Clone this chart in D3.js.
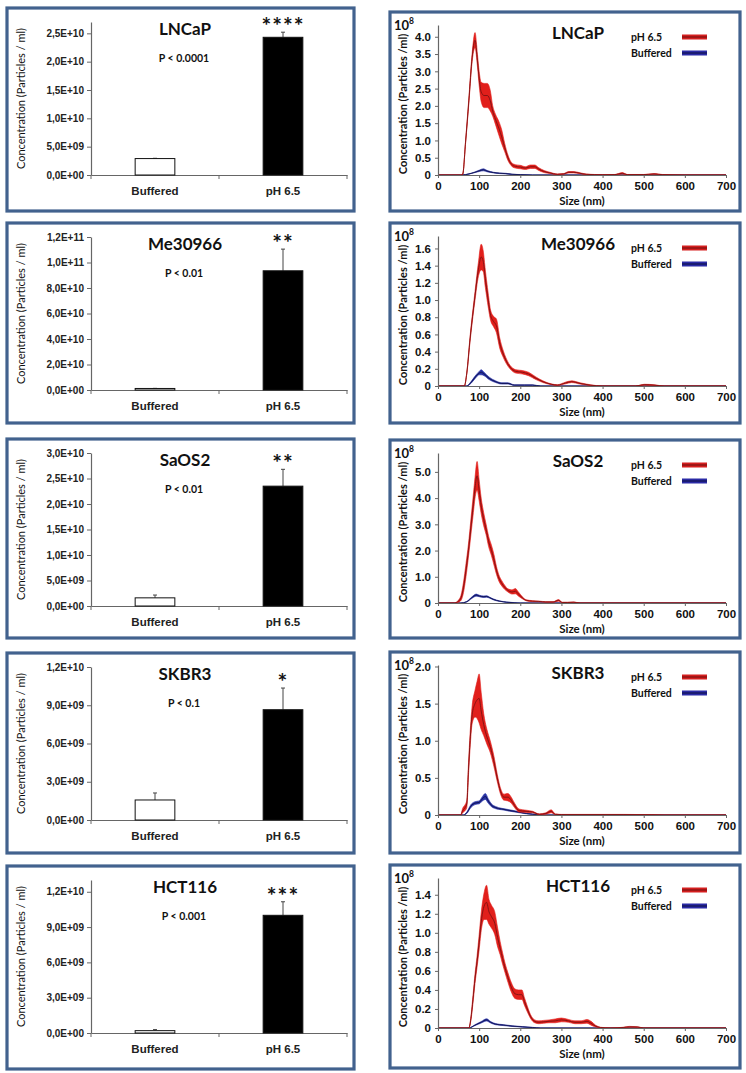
<!DOCTYPE html>
<html><head><meta charset="utf-8">
<script src="https://cdn.jsdelivr.net/npm/d3@7"></script>
<style>
html,body{margin:0;padding:0;background:#fff;}
svg{display:block;font-family:Lato, "Open Sans", sans-serif;}
</style></head>
<body>
<svg id="chart" width="746" height="1073"></svg>
<script>
// ---------------- DATA ----------------
const cellLines = ["LNCaP", "Me30966", "SaOS2", "SKBR3", "HCT116"];
const barCategories = ["Buffered", "pH 6.5"];
const bufferedMean = [2.9e9, 1.2e9, 1.6e9, 1.57e9, 2.0e8];
const bufferedErr  = [0.5e8, 0.8e8, 5.5e8, 5.5e8, 0.9e8];
const ph65Mean     = [2.43e10, 9.35e10, 2.35e10, 8.65e9, 1.0e10];
const ph65Err      = [0.9e9, 1.7e10, 3.3e9, 1.7e9, 1.15e9];
const pValueLabels = ["P < 0.0001", "P < 0.01", "P < 0.01", "P < 0.1", "P < 0.001"];
const starLabels   = ["****", "**", "**", "*", "***"];
const barTicks = [
  [0, 5e9, 1e10, 1.5e10, 2e10, 2.5e10],
  [0, 2e10, 4e10, 6e10, 8e10, 1e11, 1.2e11],
  [0, 5e9, 1e10, 1.5e10, 2e10, 2.5e10, 3e10],
  [0, 3e9, 6e9, 9e9, 1.2e10],
  [0, 3e9, 6e9, 9e9, 1.2e10]
];
const barYMax = [2.7e10, 1.2e11, 3.0e10, 1.2e10, 1.3e10];

const sizeTicks = [0, 100, 200, 300, 400, 500, 600, 700];
const ntaTicks = [
  [0, 0.5, 1.0, 1.5, 2.0, 2.5, 3.0, 3.5, 4.0],
  [0, 0.2, 0.4, 0.6, 0.8, 1.0, 1.2, 1.4, 1.6],
  [0, 1.0, 2.0, 3.0, 4.0, 5.0],
  [0, 0.5, 1.0, 1.5, 2.0],
  [0, 0.2, 0.4, 0.6, 0.8, 1.0, 1.2, 1.4]
];
const ntaYMax = [4.34, 1.745, 5.72, 2.02, 1.576];
const seriesNames = ["pH 6.5", "Buffered"];

// [size nm, mean (x10^8 particles/ml), half-width of band]
const lncapPH65 = [[0,0,0],[55,0,0],[60,0.02,0.01],[67,0.95,0.04],[75,2.15,0.08],[83,3.4,0.12],[90,3.9,0.22],[96,3.3,0.18],[100,2.8,0.2],[105,2.4,0.28],[112,2.3,0.35],[120,2.3,0.35],[127,2.15,0.3],[133,1.85,0.15],[140,1.6,0.15],[148,1.35,0.2],[155,1.1,0.2],[162,0.8,0.12],[170,0.5,0.08],[178,0.32,0.05],[188,0.25,0.05],[200,0.23,0.05],[212,0.2,0.04],[225,0.24,0.05],[235,0.24,0.05],[245,0.17,0.04],[258,0.1,0.03],[272,0.06,0.02],[290,0.02,0.01],[305,0.03,0.01],[318,0.08,0.02],[330,0.08,0.02],[345,0.05,0.015],[360,0.02,0.01],[380,0.01,0.005],[400,0.005,0.005],[430,0.01,0.005],[448,0.05,0.02],[460,0.01,0.005],[500,0.01,0.005],[525,0.03,0.01],[545,0.01,0.005],[600,0,0],[700,0,0]];
const lncapBuffered = [[0,0,0],[58,0,0],[75,0.03,0.005],[90,0.08,0.01],[100,0.12,0.02],[110,0.15,0.03],[120,0.11,0.02],[135,0.07,0.01],[150,0.05,0.01],[165,0.04,0.01],[180,0.02,0.005],[200,0.01,0.003],[230,0,0],[700,0,0]];
const me30966PH65 = [[0,0,0],[64,0,0],[70,0.15,0.01],[78,0.55,0.03],[90,1.05,0.05],[98,1.35,0.08],[105,1.5,0.15],[110,1.45,0.12],[115,1.25,0.1],[122,1.0,0.08],[128,0.82,0.06],[135,0.75,0.06],[142,0.7,0.08],[150,0.5,0.06],[158,0.38,0.04],[165,0.3,0.03],[175,0.22,0.02],[189,0.17,0.02],[205,0.16,0.02],[220,0.14,0.02],[238,0.09,0.015],[255,0.05,0.01],[275,0.02,0.005],[290,0.01,0.005],[310,0.035,0.01],[325,0.05,0.01],[345,0.03,0.008],[370,0.01,0.005],[400,0,0],[480,0,0],[502,0.015,0.005],[525,0.01,0.005],[550,0,0],[700,0,0]];
const me30966Buffered = [[0,0,0],[70,0,0],[80,0.04,0.01],[90,0.1,0.015],[100,0.15,0.02],[105,0.16,0.03],[112,0.14,0.02],[124,0.09,0.015],[140,0.05,0.01],[155,0.03,0.008],[170,0.03,0.008],[185,0.01,0.005],[210,0.01,0.004],[230,0.01,0.004],[250,0,0],[700,0,0]];
const saos2PH65 = [[0,0,0],[40,0,0],[48,0.05,0.03],[56,0.2,0.1],[62,0.6,0.2],[68,1.25,0.25],[74,2.0,0.25],[80,2.9,0.3],[86,3.8,0.35],[90,4.4,0.4],[95,4.85,0.55],[100,4.3,0.4],[105,3.7,0.3],[111,3.2,0.25],[117,2.8,0.2],[123,2.35,0.2],[130,2.0,0.2],[136,1.65,0.2],[142,1.25,0.15],[148,0.95,0.12],[155,0.75,0.1],[162,0.6,0.08],[170,0.48,0.06],[180,0.42,0.08],[188,0.45,0.1],[195,0.35,0.08],[205,0.2,0.04],[215,0.1,0.02],[230,0.07,0.02],[245,0.06,0.015],[262,0.04,0.01],[280,0.04,0.01],[293,0.1,0.03],[302,0.02,0.01],[315,0.02,0.01],[330,0.03,0.01],[345,0,0],[700,0,0]];
const saos2Buffered = [[0,0,0],[55,0,0],[70,0.05,0.01],[82,0.2,0.03],[93,0.3,0.04],[100,0.27,0.03],[110,0.24,0.03],[118,0.25,0.03],[126,0.2,0.02],[134,0.14,0.02],[150,0.07,0.01],[167,0.03,0.008],[185,0.01,0.005],[200,0,0],[700,0,0]];
const skbr3PH65 = [[0,0,0],[55,0,0],[60,0.06,0.03],[66,0.1,0.04],[70,0.15,0.05],[74,0.6,0.08],[78,1.0,0.1],[83,1.35,0.12],[90,1.5,0.18],[95,1.55,0.25],[100,1.57,0.33],[105,1.4,0.25],[111,1.22,0.15],[119,1.05,0.1],[127,0.92,0.08],[136,0.72,0.07],[144,0.5,0.05],[152,0.32,0.04],[160,0.24,0.04],[170,0.24,0.05],[178,0.2,0.04],[186,0.13,0.03],[197,0.06,0.02],[214,0.05,0.015],[230,0.04,0.01],[246,0.01,0.005],[262,0.02,0.01],[275,0.05,0.02],[285,0.01,0.005],[300,0.005,0.003],[350,0.005,0.003],[450,0.005,0.003],[520,0.003,0.002],[550,0,0],[700,0,0]];
const skbr3Buffered = [[0,0,0],[62,0,0],[70,0.03,0.01],[80,0.12,0.02],[90,0.16,0.02],[100,0.17,0.02],[108,0.22,0.03],[115,0.25,0.04],[122,0.19,0.03],[130,0.13,0.02],[140,0.1,0.015],[155,0.08,0.01],[170,0.065,0.01],[190,0.045,0.008],[215,0.02,0.005],[245,0.005,0.003],[260,0,0],[700,0,0]];
const hct116PH65 = [[0,0,0],[75,0,0],[80,0.1,0.02],[85,0.3,0.04],[90,0.52,0.05],[95,0.7,0.06],[100,0.9,0.08],[106,1.15,0.1],[112,1.28,0.14],[118,1.32,0.18],[124,1.22,0.13],[130,1.17,0.12],[138,1.1,0.12],[145,0.95,0.1],[151,0.84,0.07],[157,0.73,0.06],[163,0.63,0.05],[170,0.53,0.05],[178,0.43,0.05],[187,0.36,0.05],[196,0.35,0.05],[204,0.35,0.05],[210,0.28,0.04],[217,0.2,0.03],[225,0.12,0.02],[235,0.07,0.015],[245,0.06,0.015],[257,0.065,0.015],[270,0.07,0.015],[285,0.075,0.02],[300,0.085,0.02],[317,0.075,0.015],[333,0.06,0.015],[348,0.06,0.015],[362,0.07,0.02],[372,0.05,0.02],[383,0.02,0.01],[395,0.005,0.003],[420,0,0],[450,0.005,0.003],[465,0.012,0.005],[485,0.01,0.004],[500,0,0],[700,0,0]];
const hct116Buffered = [[0,0,0],[75,0,0],[90,0.03,0.005],[105,0.06,0.008],[118,0.085,0.012],[128,0.06,0.008],[140,0.04,0.006],[160,0.03,0.005],[180,0.02,0.004],[205,0.012,0.003],[230,0.005,0.002],[250,0,0],[700,0,0]];

const ntaPH65 = [lncapPH65, me30966PH65, saos2PH65, skbr3PH65, hct116PH65];
const ntaBuffered = [lncapBuffered, me30966Buffered, saos2Buffered, skbr3Buffered, hct116Buffered];

// ---------------- LAYOUT ----------------
const svg = d3.select("#chart");
svg.append("rect").attr("width", 746).attr("height", 1073).attr("fill", "#fff");

const leftX = 7, leftW = 347;
const leftTop = [8, 223, 439, 653, 866];
const leftH = [203, 200, 199, 200, 203];
const rightX = 390, rightW = 350;
const rightTop = [12, 223, 440, 652, 865];
const rightH = [199, 200, 198, 201, 203];

const borderColor = "#42628e";
const axisColor = "#666";
const redBand = "#e11f1b", redLine = "#7d1212";
const blueBand = "#2833a6", blueLine = "#121450";

function sciFmt(v) {
  if (v === 0) return "0,0E+00";
  const e = Math.floor(Math.log10(v) + 1e-9);
  const m = v / Math.pow(10, e);
  return m.toFixed(1).replace(".", ",") + "E+" + String(e).padStart(2, "0");
}

function panelFrame(x, y, w, h) {
  svg.append("rect").attr("x", x).attr("y", y).attr("width", w).attr("height", h)
    .attr("fill", "#fff").attr("stroke", borderColor).attr("stroke-width", 3.2);
}

function drawBarPanel(i) {
  const px = leftX, top = leftTop[i];
  panelFrame(px, top, leftW, leftH[i]);
  const g = svg.append("g");
  const x0 = px + 84, x1 = px + 340;
  const yZero = top + 167, yTop = top + 14;
  const y = d3.scaleLinear().domain([0, barYMax[i]]).range([yZero, yTop]);
  const xb = d3.scaleBand().domain(barCategories).range([x0, x1]);

  // y axis
  const ya = g.append("g").attr("transform", `translate(${x0},0)`)
    .call(d3.axisLeft(y).tickValues(barTicks[i]).tickFormat(sciFmt).tickSize(4).tickSizeOuter(0).tickPadding(3));
  ya.select(".domain").attr("stroke", axisColor).attr("stroke-width", 1.2);
  ya.selectAll(".tick line").attr("stroke", axisColor);
  ya.selectAll("text").attr("font-size", 10).attr("font-weight", 700).attr("fill", "#222");

  // x axis
  const xa = g.append("g").attr("transform", `translate(0,${yZero})`)
    .call(d3.axisBottom(xb).tickSize(0).tickPadding(12));
  xa.select(".domain").attr("stroke", axisColor).attr("stroke-width", 1.2);
  xa.selectAll("text").attr("font-size", 11.5).attr("font-weight", 700).attr("fill", "#222");
  const bounds = [x0, x0 + xb.step(), x1];
  g.selectAll(null).data(bounds).enter().append("line")
    .attr("x1", d => d).attr("x2", d => d).attr("y1", yZero).attr("y2", yZero + 4)
    .attr("stroke", axisColor);

  const bars = [
    {cat: barCategories[0], v: bufferedMean[i], e: bufferedErr[i], fill: "#fff"},
    {cat: barCategories[1], v: ph65Mean[i], e: ph65Err[i], fill: "#000"}
  ];
  const bw = xb.bandwidth() * 0.31;
  bars.forEach(b => {
    const cx = xb(b.cat) + xb.bandwidth() / 2;
    g.append("line").attr("x1", cx).attr("x2", cx).attr("y1", y(b.v)).attr("y2", y(b.v + b.e))
      .attr("stroke", "#444").attr("stroke-width", 1);
    g.append("line").attr("x1", cx - 2).attr("x2", cx + 2).attr("y1", y(b.v + b.e)).attr("y2", y(b.v + b.e))
      .attr("stroke", "#444").attr("stroke-width", 1);
  });
  g.selectAll(null).data(bars).enter().append("rect")
    .attr("x", d => xb(d.cat) + (xb.bandwidth() - bw) / 2)
    .attr("y", d => y(d.v))
    .attr("width", bw)
    .attr("height", d => yZero - y(d.v))
    .attr("fill", d => d.fill).attr("stroke", "#111").attr("stroke-width", 1);

  g.append("text").attr("x", px + 178).attr("y", top + 27).attr("text-anchor", "middle")
    .attr("font-size", 17).attr("font-weight", 700).attr("fill", "#111").text(cellLines[i]);
  g.append("text").attr("x", px + 177).attr("y", top + 54).attr("text-anchor", "middle")
    .attr("font-size", 10.5).attr("font-weight", 700).attr("fill", "#111").text(pValueLabels[i]);
  const pcx = xb(barCategories[1]) + xb.bandwidth() / 2;
  g.append("text").attr("x", pcx).attr("y", y(ph65Mean[i] + ph65Err[i]) + 2)
    .attr("text-anchor", "middle").attr("font-size", 23).attr("font-weight", 700)
    .attr("letter-spacing", 1).attr("fill", "#111").text(starLabels[i]);

  const cy = (yZero + yTop) / 2;
  g.append("text").attr("transform", `translate(${px + 18},${cy}) rotate(-90)`)
    .attr("text-anchor", "middle").attr("font-size", 11).attr("font-weight", 400).attr("fill", "#111")
    .text("Concentration (Particles / ml)");
}

function drawNtaPanel(i) {
  const px = rightX, top = rightTop[i];
  panelFrame(px, top, rightW, rightH[i]);
  const g = svg.append("g");
  const x0 = px + 48, x1 = px + 336;
  const yZero = top + 163, yTop = top + 13;
  const x = d3.scaleLinear().domain([0, 700]).range([x0, x1]);
  const y = d3.scaleLinear().domain([0, ntaYMax[i]]).range([yZero, yTop]);

  const series = [
    {data: ntaBuffered[i], band: blueBand, line: blueLine},
    {data: ntaPH65[i], band: redBand, line: redLine}
  ];
  series.forEach(s => {
    const area = d3.area().curve(d3.curveMonotoneX)
      .x(d => x(d[0])).y0(d => y(Math.max(0, d[1] - d[2]))).y1(d => y(d[1] + d[2]));
    const line = d3.line().curve(d3.curveMonotoneX).x(d => x(d[0])).y(d => y(d[1]));
    g.append("path").datum(s.data).attr("d", area).attr("fill", s.band)
      .attr("stroke", s.band).attr("stroke-width", 0.6);
    g.append("path").datum(s.data).attr("d", line).attr("fill", "none")
      .attr("stroke", s.line).attr("stroke-width", 0.9);
  });

  const ya = g.append("g").attr("transform", `translate(${x0},0)`)
    .call(d3.axisLeft(y).tickValues(ntaTicks[i]).tickFormat(v => v === 0 ? "0" : v.toFixed(1))
      .tickSize(3).tickSizeOuter(0).tickPadding(4));
  ya.select(".domain").attr("stroke", axisColor).attr("stroke-width", 1.2);
  ya.selectAll(".tick line").attr("stroke", axisColor);
  ya.selectAll("text").attr("font-size", 11.5).attr("font-weight", 700).attr("fill", "#111");

  const xa = g.append("g").attr("transform", `translate(0,${yZero})`)
    .call(d3.axisBottom(x).tickValues(sizeTicks).tickSize(3).tickSizeOuter(0).tickPadding(4));
  xa.select(".domain").attr("stroke", axisColor).attr("stroke-width", 1.2);
  xa.selectAll(".tick line").attr("stroke", axisColor);
  xa.selectAll("text").attr("font-size", 11.5).attr("font-weight", 700).attr("fill", "#111");

  g.append("text").attr("x", (x0 + x1) / 2).attr("y", yZero + 30).attr("text-anchor", "middle")
    .attr("font-size", 11.5).attr("font-weight", 700).attr("fill", "#111").text("Size (nm)");

  const exp = g.append("text").attr("x", px + 4).attr("y", top + 18)
    .attr("font-size", 13).attr("font-weight", 700).attr("fill", "#111");
  exp.append("tspan").text("10");
  exp.append("tspan").attr("dy", -6).attr("font-size", 8.5).text("8");

  g.append("text").attr("transform", `translate(${px + 17},${(yZero + yTop) / 2 + 4}) rotate(-90)`)
    .attr("text-anchor", "middle").attr("font-size", 11).attr("font-weight", 700).attr("fill", "#111")
    .text("Concentration (Particles /ml)");

  g.append("text").attr("x", px + 188).attr("y", top + 27).attr("text-anchor", "middle")
    .attr("font-size", 17).attr("font-weight", 700).attr("fill", "#111").text(cellLines[i]);

  const leg = [
    {name: seriesNames[0], band: "#d41f1f", line: redLine},
    {name: seriesNames[1], band: "#2a2aa5", line: blueLine}
  ];
  leg.forEach((l, k) => {
    const ly = top + 25 + k * 16;
    g.append("text").attr("x", px + 241).attr("y", ly + 4).attr("font-size", 10.5)
      .attr("font-weight", 700).attr("fill", "#111").text(l.name);
    g.append("line").attr("x1", px + 292).attr("x2", px + 317).attr("y1", ly).attr("y2", ly)
      .attr("stroke", l.band).attr("stroke-width", 5);
    g.append("line").attr("x1", px + 292).attr("x2", px + 317).attr("y1", ly).attr("y2", ly)
      .attr("stroke", l.line).attr("stroke-width", 1.2);
  });
}

for (let i = 0; i < cellLines.length; i++) {
  drawBarPanel(i);
  drawNtaPanel(i);
}
</script>
</body></html>
